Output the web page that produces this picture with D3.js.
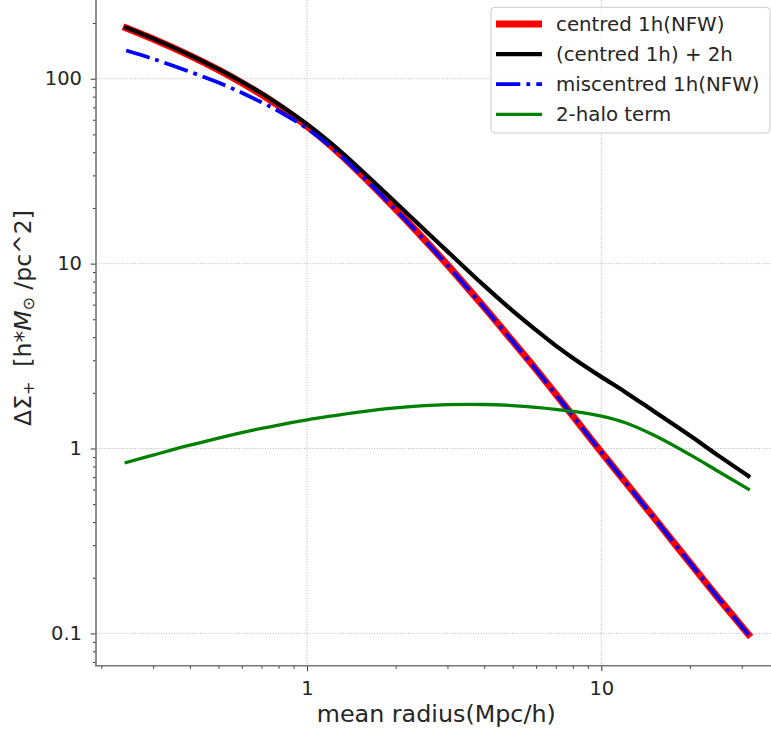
<!DOCTYPE html>
<html>
<head>
<meta charset="utf-8">
<script src="https://cdn.jsdelivr.net/npm/d3@7"></script>
<style>
  body { margin: 0; background: #fff; }
  svg { display: block; }
  text { font-family: "DejaVu Sans", sans-serif; fill: #262626; }
</style>
</head>
<body>
<script>
// mean radius (Mpc/h), shared by every curve
const radius = [0.243, 0.3, 0.4, 0.5, 0.6, 0.7, 0.8, 1.0, 1.2, 1.5, 2, 2.5, 3, 4, 5, 6, 7, 8, 10, 12, 15, 20, 25, 31.6];

const centred1h = [188, 163.9, 133.3, 111.6, 95.1, 82.1, 71.5, 55.4, 43.6, 31.3, 19.71, 13.53, 9.84, 5.8, 3.8, 2.68, 1.97, 1.5, 0.956, 0.666, 0.428, 0.241, 0.155, 0.0988];
const centredPlus2h = [189, 164.8, 134.3, 112.7, 96.3, 83.4, 72.8, 56.8, 45.1, 32.9, 21.4, 15.3, 11.65, 7.6, 5.55, 4.37, 3.6, 3.09, 2.44, 2.03, 1.6, 1.175, 0.915, 0.71];
const miscentred1h = [142, 128, 109, 95.3, 84, 74.6, 66.9, 53.8, 43.0, 31.0, 19.6, 13.45, 9.8, 5.78, 3.79, 2.67, 1.96, 1.5, 0.955, 0.665, 0.427, 0.241, 0.155, 0.0985];
const twoHalo = [0.840, 0.921, 1.042, 1.138, 1.219, 1.285, 1.340, 1.428, 1.495, 1.573, 1.658, 1.706, 1.727, 1.730, 1.706, 1.670, 1.629, 1.587, 1.495, 1.382, 1.186, 0.926, 0.751, 0.603];

const seriesNames = ["centred 1h(NFW)", "(centred 1h) + 2h", "miscentred 1h(NFW)", "2-halo term"];
const xMajor = [1, 10];
const yMajor = [0.1, 1, 10, 100];
const yLabels = ["0.1", "1", "10", "100"];

const width = 771, height = 736;
const mLeft = 96, mRight = 771, mTop = 0, mBottom = 665.7;

const series = [
  {name: seriesNames[0], vals: centred1h,     color: "#ff0000", w: 7,   dash: null},
  {name: seriesNames[1], vals: centredPlus2h, color: "#000000", w: 4.2, dash: null},
  {name: seriesNames[2], vals: miscentred1h,  color: "#0000ff", w: 3.8, dash: "24.3,6.1,3.8,6.1"},
  {name: seriesNames[3], vals: twoHalo,       color: "#008000", w: 3.3, dash: null}
];

let svg = d3.select("body").append("svg")
  .attr("width", width)
  .attr("height", height);

let x = d3.scaleLog().domain([0.19184, 37.72]).range([mLeft, mRight]);
let y = d3.scaleLog().domain([0.06689, 266.5]).range([mBottom, mTop]);

// minor ticks 2..9 per decade
let xMinor = [], yMinor = [];
for (let e = -1; e <= 1; e++) {
  for (let m = 2; m <= 9; m++) {
    let v = m * Math.pow(10, e);
    if (v > x.domain()[0] && v < x.domain()[1]) xMinor.push(v);
  }
}
for (let e = -2; e <= 2; e++) {
  for (let m = 2; m <= 9; m++) {
    let v = m * Math.pow(10, e);
    if (v > y.domain()[0] && v < y.domain()[1]) yMinor.push(v);
  }
}

// GRID
let grid = svg.append("g")
  .attr("stroke", "#b0b0b0")
  .attr("stroke-width", 0.9)
  .attr("stroke-dasharray", "1,1.6");
grid.selectAll(".gx").data(xMajor).enter().append("line")
  .attr("x1", d => x(d)).attr("x2", d => x(d))
  .attr("y1", mTop).attr("y2", mBottom);
grid.selectAll(".gy").data(yMajor).enter().append("line")
  .attr("y1", d => y(d)).attr("y2", d => y(d))
  .attr("x1", mLeft).attr("x2", mRight);

// CURVES
let line = d3.line()
  .x(d => x(d[0]))
  .y(d => y(d[1]))
  .curve(d3.curveCatmullRom.alpha(0.5));

series.forEach(s => {
  svg.append("path")
    .datum(radius.map((r, i) => [r, s.vals[i]]))
    .attr("fill", "none")
    .attr("stroke", s.color)
    .attr("stroke-width", s.w)
    .attr("stroke-linecap", s.dash ? "butt" : "square")
    .attr("stroke-linejoin", "round")
    .attr("stroke-dasharray", s.dash)
    .attr("d", line);
});

// AXES
function removeDomain(el) {
  el.select(".domain").remove();
}

svg.append("g")
  .attr("transform", `translate(0,${mBottom})`)
  .call(d3.axisBottom(x).tickValues(xMajor).tickSize(5.3).tickPadding(9.7).tickFormat(d3.format("d")))
  .call(removeDomain);
svg.append("g")
  .attr("transform", `translate(0,${mBottom})`)
  .call(d3.axisBottom(x).tickValues(xMinor).tickSize(3).tickFormat(""))
  .call(removeDomain);

svg.append("g")
  .attr("transform", `translate(${mLeft},0)`)
  .call(d3.axisLeft(y).tickValues(yMajor).tickSize(5.3).tickPadding(8.7).tickFormat((d, i) => yLabels[i]))
  .call(removeDomain);
svg.append("g")
  .attr("transform", `translate(${mLeft},0)`)
  .call(d3.axisLeft(y).tickValues(yMinor).tickSize(3).tickFormat(""))
  .call(removeDomain);

svg.selectAll(".tick line").attr("stroke", "#333").attr("stroke-width", 1);
svg.selectAll(".tick text")
  .attr("font-size", 19.5)
  .attr("font-family", "DejaVu Sans")
  .attr("fill", "#262626");

// spines
svg.append("line")
  .attr("x1", mLeft).attr("x2", mLeft).attr("y1", mTop).attr("y2", mBottom + 0.8)
  .attr("stroke", "#777").attr("stroke-width", 1.6);
svg.append("line")
  .attr("x1", mLeft - 0.8).attr("x2", mRight).attr("y1", mBottom).attr("y2", mBottom)
  .attr("stroke", "#777").attr("stroke-width", 1.6);

// AXIS LABELS
svg.append("text")
  .attr("x", 436.3)
  .attr("y", 721.7)
  .attr("text-anchor", "middle")
  .attr("font-size", 23.8)
  .text("mean radius(Mpc/h)");

let ylab = svg.append("text")
  .attr("transform", "translate(31,318) rotate(-90)")
  .attr("text-anchor", "middle")
  .attr("font-size", 23.5);
ylab.append("tspan").text("ΔΣ");
ylab.append("tspan").attr("font-size", 16).attr("dy", 3).text("+");
ylab.append("tspan").attr("dy", -3).text("\u00a0\u00a0[h*");
ylab.append("tspan").attr("font-style", "italic").text("M");
ylab.append("tspan").attr("font-size", 16).attr("dy", 3).text("⊙");
ylab.append("tspan").attr("dy", -3).text("\u00a0/pc^2]");

// LEGEND
let legend = svg.append("g").attr("id", "legend");
legend.append("rect")
  .attr("x", 491).attr("y", 7.3)
  .attr("width", 279).attr("height", 125.7)
  .attr("rx", 4)
  .attr("fill", "#fff").attr("fill-opacity", 0.8)
  .attr("stroke", "#cccccc").attr("stroke-width", 1);

let rows = legend.selectAll(".row")
  .data(series)
  .enter()
  .append("g")
    .attr("transform", (d, i) => `translate(0,${24 + i * 30.1})`);
rows.append("line")
  .attr("x1", 496).attr("x2", 542)
  .attr("stroke", d => d.color)
  .attr("stroke-width", d => d.w)
  .attr("stroke-dasharray", d => d.dash);
rows.append("text")
  .attr("x", 556)
  .attr("dy", "0.35em")
  .attr("font-size", 19.8)
  .text(d => d.name);
</script>
</body>
</html>
